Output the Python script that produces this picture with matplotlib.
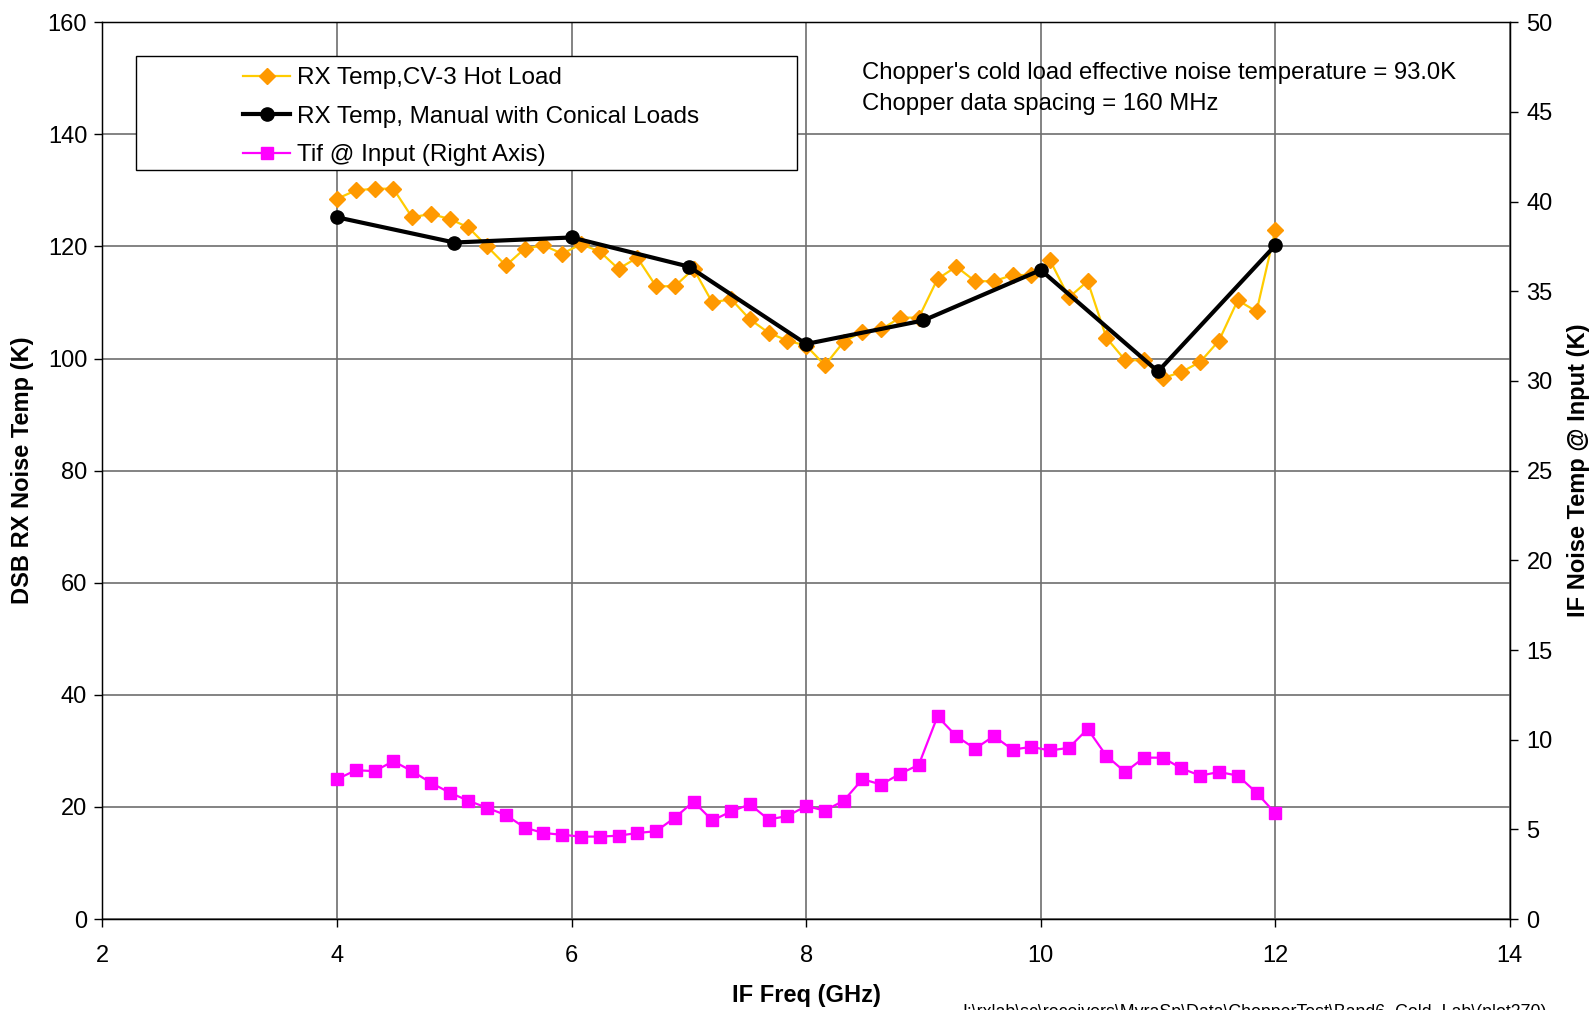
#!/usr/bin/env python3

import matplotlib
matplotlib.use("Agg")
import matplotlib.pyplot as plt
from matplotlib.patches import Rectangle

plt.rcParams["font.family"] = ["Liberation Sans", "DejaVu Sans"]

IMAGE_SIZE_PX = (1591, 1010)
IMAGE_DPI = 100

# Chopper data, 160 MHz spacing from 4 to 12 GHz
FREQ_CHOPPER = [4.00 + 0.16 * i for i in range(51)]
RX_TEMP_HOT = [
    128.5, 130.0, 130.3, 130.3, 125.2, 125.8, 124.9, 123.4, 120.0, 116.6,
    119.6, 120.2, 118.7, 120.4, 119.1, 116.0, 118.0, 112.9, 112.9, 116.0,
    110.0, 110.6, 107.0, 104.6, 103.2, 102.3, 98.8, 103.0, 104.8, 105.2,
    107.3, 107.3, 114.2, 116.4, 113.8, 113.8, 114.9, 114.9, 117.5, 110.9,
    113.8, 103.7, 99.7, 99.7, 96.5, 97.6, 99.4, 103.2, 110.4, 108.4,
    122.9,
]
TIF_INPUT = [
    7.8, 8.3, 8.25, 8.8, 8.25, 7.6, 7.05, 6.6, 6.2, 5.8,
    5.1, 4.8, 4.7, 4.6, 4.6, 4.65, 4.8, 4.9, 5.65, 6.55,
    5.5, 6.0, 6.4, 5.55, 5.75, 6.3, 6.05, 6.6, 7.8, 7.5,
    8.1, 8.6, 11.3, 10.2, 9.5, 10.2, 9.45, 9.6, 9.4, 9.55,
    10.6, 9.1, 8.2, 9.0, 9.0, 8.4, 8.0, 8.2, 8.0, 7.05,
    5.9,
]

# Manual measurement with conical loads
FREQ_MANUAL = [4, 5, 6, 7, 8, 9, 10, 11, 12]
RX_TEMP_MANUAL = [125.2, 120.7, 121.6, 116.4, 102.6, 106.8, 115.8, 97.7, 120.2]

NOTE_LINES = [
    "Chopper's cold load effective noise temperature = 93.0K",
    "Chopper data spacing = 160 MHz",
]
FILE_PATH = r"I:\rxlab\sc\receivers\MyraSp\Data\ChopperTest\Band6_Cold_Lab\(plot270)"


def main():
    fig = plt.figure(figsize=(IMAGE_SIZE_PX[0] / IMAGE_DPI, IMAGE_SIZE_PX[1] / IMAGE_DPI))
    ax = fig.add_axes([0.0644, 0.09, 0.8846, 0.888])

    grid_kw = dict(color="#6e6e6e", linewidth=1.2)
    ax.set_xlim(2, 14)
    ax.set_ylim(0, 160)
    ax.set_xticks(range(2, 15, 2))
    ax.set_yticks(range(0, 161, 20))
    ax.grid(True, **grid_kw)
    ax.set_axisbelow(True)
    ax.tick_params(direction="out", length=6, width=1, labelsize=17, pad=5)
    ax.tick_params(axis="x", pad=13)
    for sp in ax.spines.values():
        sp.set_linewidth(1)

    l1, = ax.plot(FREQ_CHOPPER, RX_TEMP_HOT, color="#ffcc00", linewidth=1.6,
                  marker="D", markersize=8.5, markerfacecolor="#ff9900",
                  markeredgecolor="#ff9900", zorder=3,
                  label="RX Temp,CV-3 Hot Load")
    l2, = ax.plot(FREQ_MANUAL, RX_TEMP_MANUAL, color="black", linewidth=3,
                  marker="o", markersize=9.5, zorder=4,
                  label="RX Temp, Manual with Conical Loads")

    ax2 = ax.twinx()
    ax2.set_ylim(0, 50)
    ax2.set_yticks(range(0, 51, 5))
    ax2.tick_params(direction="out", length=6, width=1, labelsize=17, pad=6)
    l3, = ax2.plot(FREQ_CHOPPER, TIF_INPUT, color="#ff00ff", linewidth=1.6,
                   marker="s", markersize=9, zorder=3,
                   label="Tif @ Input (Right Axis)")

    ax.set_xlabel("IF Freq (GHz)", fontsize=17, fontweight="bold", labelpad=12)
    ax.set_ylabel("DSB RX Noise Temp (K)", fontsize=17, fontweight="bold", labelpad=10)
    ax2.set_ylabel("IF Noise Temp @ Input (K)", fontsize=17, fontweight="bold", labelpad=10)

    # legend box drawn as its own rectangle, legend itself without frame
    ax2.add_patch(Rectangle((0.0238, 0.835), 0.470, 0.127, transform=ax2.transAxes,
                            facecolor="white", edgecolor="black", linewidth=1, zorder=5))
    leg = ax2.legend(handles=[l1, l2, l3], loc="upper left",
                     bbox_to_anchor=(0.1002, 0.950), frameon=False, fontsize=17.5,
                     handlelength=1.9, handletextpad=0.3, labelspacing=0.68,
                     borderaxespad=0, borderpad=0)
    leg.set_zorder(6)

    for i, line in enumerate(NOTE_LINES):
        ax2.text(0.54, 0.943 - i * 0.034, line, transform=ax2.transAxes,
                 fontsize=17.2, va="center", ha="left", zorder=6)

    fig.text(0.605, -0.002, FILE_PATH, fontsize=12.8, ha="left", va="center")

    fig.savefig("out.png", dpi=IMAGE_DPI)


if __name__ == "__main__":
    main()
